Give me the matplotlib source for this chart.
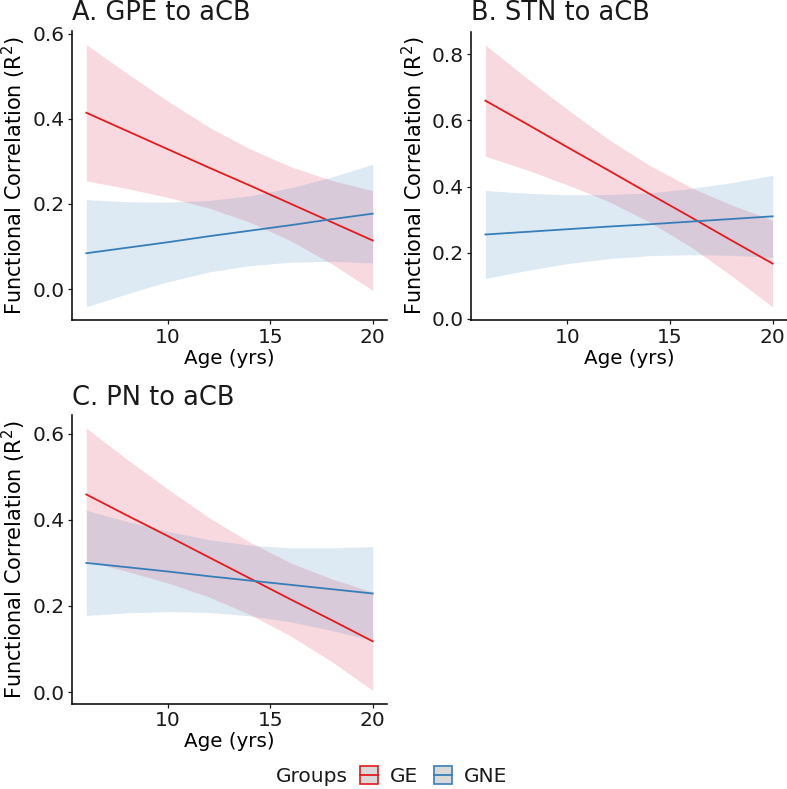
import matplotlib
matplotlib.use('Agg')
import matplotlib.pyplot as plt
from matplotlib.patches import Rectangle
from matplotlib.lines import Line2D

plt.rcParams['font.family'] = ['DejaVu Sans']
plt.rcParams['text.color'] = '#1a1a1a'

RED = '#E41A1C'
BLUE = '#377EB8'
RED_FILL = '#E12D55'
W, H = 787, 789

age = [6, 8, 10, 12, 14, 16, 18, 20]

# A. GPE to aCB
gpe_ge_fit = [0.414, 0.371, 0.328, 0.285, 0.243, 0.200, 0.157, 0.114]
gpe_ge_hi = [0.574, 0.506, 0.441, 0.380, 0.329, 0.287, 0.255, 0.231]
gpe_ge_lo = [0.254, 0.236, 0.215, 0.190, 0.157, 0.113, 0.059, -0.003]
gpe_gne_fit = [0.084, 0.097, 0.110, 0.124, 0.137, 0.150, 0.164, 0.177]
gpe_gne_hi = [0.210, 0.205, 0.204, 0.208, 0.219, 0.238, 0.263, 0.293]
gpe_gne_lo = [-0.042, -0.011, 0.017, 0.040, 0.055, 0.063, 0.065, 0.061]

# B. STN to aCB
stn_ge_fit = [0.660, 0.590, 0.519, 0.449, 0.378, 0.308, 0.237, 0.167]
stn_ge_hi = [0.828, 0.729, 0.633, 0.543, 0.464, 0.398, 0.344, 0.298]
stn_ge_lo = [0.492, 0.451, 0.405, 0.355, 0.293, 0.218, 0.130, 0.036]
stn_gne_fit = [0.255, 0.263, 0.271, 0.279, 0.286, 0.294, 0.302, 0.310]
stn_gne_hi = [0.388, 0.380, 0.375, 0.376, 0.381, 0.394, 0.412, 0.434]
stn_gne_lo = [0.122, 0.146, 0.167, 0.182, 0.191, 0.194, 0.192, 0.186]

# C. PN to aCB
pn_ge_fit = [0.459, 0.410, 0.362, 0.313, 0.264, 0.215, 0.167, 0.118]
pn_ge_hi = [0.613, 0.540, 0.471, 0.405, 0.348, 0.300, 0.263, 0.232]
pn_ge_lo = [0.305, 0.280, 0.253, 0.221, 0.180, 0.130, 0.071, 0.004]
pn_gne_fit = [0.300, 0.290, 0.280, 0.269, 0.259, 0.249, 0.239, 0.229]
pn_gne_hi = [0.422, 0.396, 0.373, 0.354, 0.341, 0.335, 0.335, 0.338]
pn_gne_lo = [0.178, 0.184, 0.187, 0.185, 0.177, 0.163, 0.143, 0.120]

xticks = [10, 15, 20]
yticks_a = [0.0, 0.2, 0.4, 0.6]
yticks_b = [0.0, 0.2, 0.4, 0.6, 0.8]
yticks_c = [0.0, 0.2, 0.4, 0.6]

fig = plt.figure(figsize=(W / 100, H / 100), dpi=100)


def px_axes(left, top, right, bottom):
    return fig.add_axes([left / W, 1 - bottom / H, (right - left) / W, (bottom - top) / H])


def panel(ax, title, ge, gne, yticks, title_base, ylab_x):
    for (fit, lo, hi), col, fcol, a in ((ge, RED, RED_FILL, 0.18), (gne, BLUE, BLUE, 0.16)):
        ax.fill_between(age, lo, hi, color=fcol, alpha=a, lw=0)
        ax.plot(age, fit, color=col, lw=1.3)
    ax.margins(x=0.05, y=0.05)
    ax.set_xticks(xticks)
    ax.set_yticks(yticks)
    ax.set_yticklabels(['%.1f' % v for v in yticks])
    for s in ['top', 'right']:
        ax.spines[s].set_visible(False)
    for s in ['left', 'bottom']:
        ax.spines[s].set_linewidth(1.1)
        ax.spines[s].set_color('black')
    ax.tick_params(length=3, width=0.9, pad=2.5, labelsize=14.5, colors='#1a1a1a')
    ax.set_xlabel('Age (yrs)', fontsize=14.3)
    ax.set_ylabel('Functional Correlation (R$^2$)', fontsize=15)
    ax.xaxis.set_label_coords(0.5, -0.10)
    ax.yaxis.set_label_coords(ylab_x, 0.5)
    l = ax.get_position().x0
    fig.text(l, 1 - title_base / H, title, fontsize=18.5, ha='left', va='baseline')


axA = px_axes(72, 31.5, 387, 320)
panel(axA, 'A. GPE to aCB', (gpe_ge_fit, gpe_ge_lo, gpe_ge_hi),
      (gpe_gne_fit, gpe_gne_lo, gpe_gne_hi), yticks_a, 20, -0.141)

axB = px_axes(471, 32, 787, 320)
panel(axB, 'B. STN to aCB', (stn_ge_fit, stn_ge_lo, stn_ge_hi),
      (stn_gne_fit, stn_gne_lo, stn_gne_hi), yticks_b, 20, -0.137)

axC = px_axes(72, 415, 387, 703.5)
panel(axC, 'C. PN to aCB', (pn_ge_fit, pn_ge_lo, pn_ge_hi),
      (pn_gne_fit, pn_gne_lo, pn_gne_hi), yticks_c, 405, -0.141)


class KeyHandler:
    # grey box with coloured border and a line through it, like the ggplot smooth key
    def legend_artist(self, legend, orig_handle, fontsize, handlebox):
        x0, y0 = -handlebox.xdescent, -handlebox.ydescent
        w, h = handlebox.width, handlebox.height
        c = orig_handle.get_color()
        tr = handlebox.get_transform()
        box = Rectangle((x0, y0), w, h, facecolor='#D9D9D9', edgecolor=c, lw=1.2, transform=tr)
        ln = Line2D([x0, x0 + w], [y0 + h / 2, y0 + h / 2], color=c, lw=1.3, transform=tr)
        handlebox.add_artist(box)
        handlebox.add_artist(ln)
        return box


fig.text(276 / W, 1 - 776 / H, 'Groups', fontsize=14.5, ha='left', va='center')
handles = [Line2D([], [], color=RED), Line2D([], [], color=BLUE)]
fig.legend(handles, ['GE', 'GNE'], loc='center left', bbox_to_anchor=(360 / W, 1 - 776 / H),
           ncol=2, frameon=False, fontsize=14.5, handlelength=0.9, handleheight=0.95,
           handletextpad=0.6, columnspacing=0.75, borderpad=0, borderaxespad=0,
           handler_map={Line2D: KeyHandler()})

fig.savefig('out.png', dpi=100)
